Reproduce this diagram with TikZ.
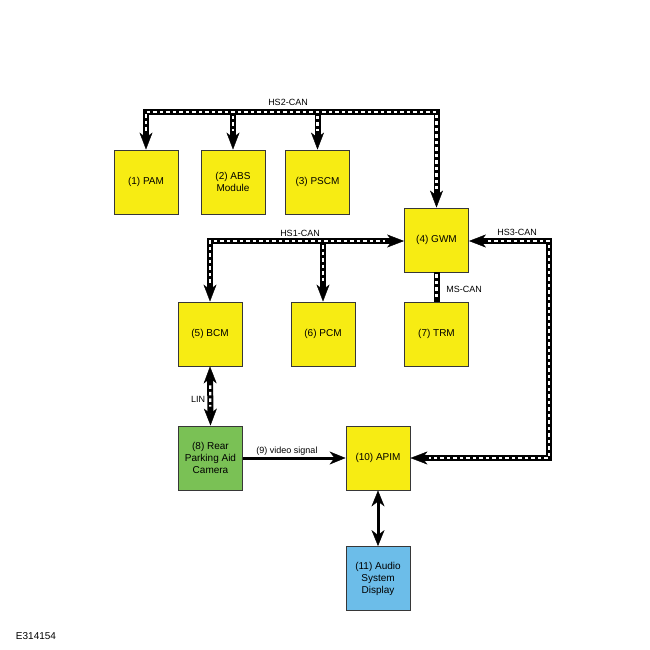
\documentclass[tikz,border=0pt]{standalone}
\usepackage{fontspec}
\setmainfont{Liberation Sans}
\usetikzlibrary{arrows.meta}
\definecolor{boxyellow}{RGB}{247,236,19}
\definecolor{boxgreen}{RGB}{122,193,85}
\definecolor{boxblue}{RGB}{108,189,233}
\definecolor{boxline}{RGB}{55,55,55}
\tikzset{
  bustip/.tip={Stealth[length=17pt,width=13pt,inset=5pt,line width=0.4pt]},
  wiretip/.tip={Stealth[length=16pt,width=13pt,inset=5pt,line width=0.4pt]}
}
\begin{document}
\begin{tikzpicture}[x=1pt,y=-1pt,
  box/.style={draw=boxline, line width=0.9pt, fill=boxyellow, minimum width=64pt, minimum height=64pt, inner sep=0pt, align=center, font=\fontsize{10}{12}\selectfont},
  busblack/.style={line width=6pt, black},
  buswhite/.style={line width=2.2pt, white, dash pattern=on 3.5pt off 3pt},
  wire/.style={line width=3pt, black},
  lbl/.style={font=\fontsize{9}{11}\selectfont, inner sep=1pt}
]
\fill[white] (0,0) rectangle (650,650);
\useasboundingbox (0,0) rectangle (650,650);

\node[box] (pam) at (146,182) {(1) PAM};
\node[box] (abs) at (233,182) {(2) ABS\\Module};
\node[box] (pscm) at (317.5,182) {(3) PSCM};
\node[box] (gwm) at (436.5,240) {(4) GWM};
\node[box] (bcm) at (210,334) {(5) BCM};
\node[box] (pcm) at (323,334) {(6) PCM};
\node[box] (trm) at (436.5,334) {(7) TRM};
\node[box, fill=boxgreen] (cam) at (210.5,458) {(8) Rear\\Parking Aid\\Camera};
\node[box] (apim) at (378,458) {(10) APIM};
\node[box, fill=boxblue] (aud) at (378,578.5) {(11) Audio\\System\\Display};

\coordinate (hs2y) at (0,112);
\coordinate (hs1y) at (0,241);
\coordinate (hs3x) at (549,0);

% black bus bodies
\draw[busblack, bustip-bustip] (pam.north) -- (pam.north |- hs2y) -- (gwm.north |- hs2y) -- (gwm.north);
\draw[busblack, -bustip] (abs.north |- hs2y) -- (abs.north);
\draw[busblack, -bustip] (pscm.north |- hs2y) -- (pscm.north);
\draw[busblack, bustip-bustip] (bcm.north) -- (bcm.north |- hs1y) -- (gwm.west |- hs1y);
\draw[busblack, -bustip] (pcm.north |- hs1y) -- (pcm.north);
\draw[busblack, bustip-bustip] (gwm.east |- hs1y) -- (hs3x |- hs1y) -- (hs3x |- apim.east) -- (apim.east);
\draw[busblack] (gwm.south) -- (trm.north);
\draw[busblack, bustip-bustip] (bcm.south) -- (cam.north);

% white dashes
\draw[buswhite, shorten <=19pt, shorten >=19pt] (pam.north) -- (pam.north |- hs2y) -- (gwm.north |- hs2y) -- (gwm.north);
\draw[buswhite, shorten <=4pt, shorten >=19pt] (abs.north |- hs2y) -- (abs.north);
\draw[buswhite, shorten <=4pt, shorten >=19pt] (pscm.north |- hs2y) -- (pscm.north);
\draw[buswhite, shorten <=19pt, shorten >=19pt] (bcm.north) -- (bcm.north |- hs1y) -- (gwm.west |- hs1y);
\draw[buswhite, shorten <=4pt, shorten >=19pt] (pcm.north |- hs1y) -- (pcm.north);
\draw[buswhite, shorten <=19pt, shorten >=19pt] (gwm.east |- hs1y) -- (hs3x |- hs1y) -- (hs3x |- apim.east) -- (apim.east);
\draw[buswhite, shorten <=2pt, shorten >=2pt] (gwm.south) -- (trm.north);
\draw[buswhite, shorten <=19pt, shorten >=19pt] (bcm.south) -- (cam.north);

% plain wires
\draw[wire, -wiretip] (cam.east) -- (apim.west);
\draw[wire, wiretip-wiretip] (apim.south) -- (aud.north);

% labels
\node[lbl] (l2) at (288,102) {HS2-CAN};
\node[lbl] (l1) at (300,233) {HS1-CAN};
\node[lbl] (l3) at (517,232) {HS3-CAN};
\node[lbl] (lm) at (464,289) {MS-CAN};
\node[lbl] (ll) at (198,399) {LIN};
\node[lbl] (lv) at (287,451) {(9) video signal};
\node[font=\fontsize{10}{12}\selectfont, inner sep=0pt] (fig) at (36,636) {E314154};
\end{tikzpicture}
\end{document}
